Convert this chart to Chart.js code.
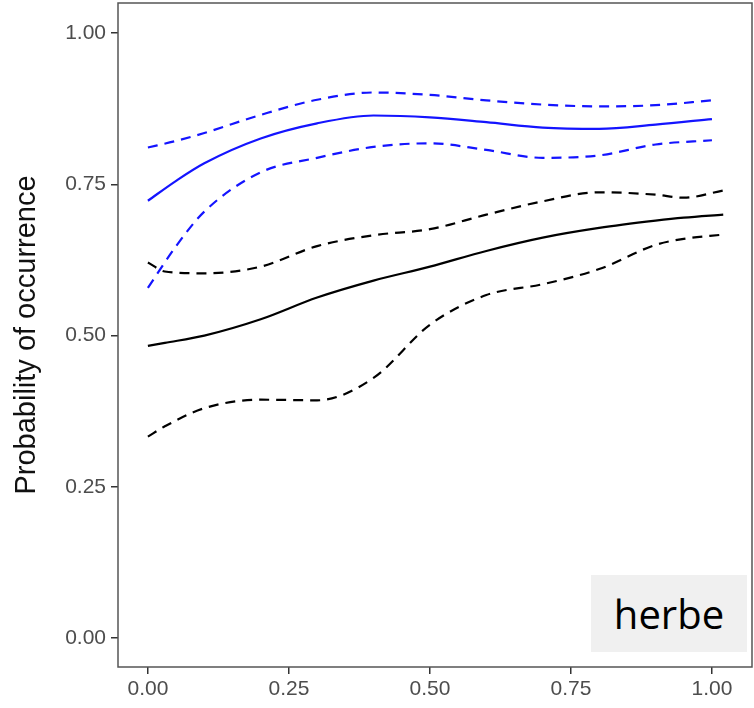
<!DOCTYPE html>
<html>
<head>
<meta charset="utf-8">
<script src="https://cdn.jsdelivr.net/npm/chart.js@4.4.1/dist/chart.umd.min.js"></script>
<style>
  html, body { margin: 0; padding: 0; background: #fff; }
  #wrap { position: relative; width: 754px; height: 708px; }
  #herbe {
    position: absolute; left: 591px; top: 575px; width: 156px; height: 77px;
    background: #f0f0f0; color: #000; font: 40px "Open Sans", "Liberation Sans", sans-serif;
    display: flex; align-items: center; justify-content: center;
  }
</style>
</head>
<body>
<div id="wrap">
  <canvas id="chart" width="754" height="708"></canvas>
  <div id="herbe">herbe</div>
</div>
<script>
// x positions for each curve
const xBlue  = [0, 0.05, 0.1, 0.2, 0.3, 0.4, 0.5, 0.6, 0.7, 0.8, 0.9, 1.0];
const xBlack = [0, 0.03, 0.1, 0.2, 0.3, 0.4, 0.5, 0.6, 0.7, 0.8, 0.9, 0.95, 1.02];

// blue: fit + confidence band
const blueFit   = [0.723, 0.756, 0.785, 0.826, 0.851, 0.864, 0.861, 0.853, 0.844, 0.842, 0.849, 0.858];
const blueUpper = [0.811, 0.822, 0.835, 0.865, 0.890, 0.902, 0.898, 0.889, 0.882, 0.879, 0.881, 0.889];
const blueLower = [0.579, 0.648, 0.705, 0.770, 0.794, 0.812, 0.818, 0.807, 0.794, 0.798, 0.816, 0.823];

// black: fit + confidence band
const blackFit   = [0.483, 0.488, 0.500, 0.527, 0.563, 0.591, 0.614, 0.640, 0.662, 0.678, 0.690, 0.695, 0.700];
const blackUpper = [0.621, 0.606, 0.603, 0.614, 0.648, 0.666, 0.676, 0.700, 0.722, 0.737, 0.733, 0.728, 0.740];
const blackLower = [0.333, 0.350, 0.380, 0.394, 0.393, 0.430, 0.518, 0.567, 0.585, 0.610, 0.650, 0.660, 0.667];

const tickValues = [0, 0.25, 0.5, 0.75, 1.0];

function pts(xs, ys) {
    return xs.map((x, i) => ({ x: x, y: ys[i] }));
}

function line(xs, ys, color, dashed) {
    return {
        data: pts(xs, ys),
        borderColor: color,
        borderWidth: 2.2,
        borderDash: dashed ? [10, 7] : [],
        pointRadius: 0,
        fill: false,
        tension: 0.4,
        cubicInterpolationMode: 'monotone'
    };
}

// full panel border like ggplot
const panelBorder = {
    id: 'panelBorder',
    afterDraw(chart) {
        const a = chart.chartArea;
        const ctx = chart.ctx;
        ctx.save();
        ctx.strokeStyle = '#555';
        ctx.lineWidth = 1.5;
        ctx.strokeRect(a.left, a.top, a.right - a.left, a.bottom - a.top);
        ctx.restore();
    }
};

const tickFont = { family: 'Liberation Sans, Arial, sans-serif', size: 21 };

new Chart(document.getElementById('chart').getContext('2d'), {
    type: 'line',
    data: {
        datasets: [
            line(xBlue, blueUpper, '#1414ff', true),
            line(xBlue, blueFit, '#1414ff', false),
            line(xBlue, blueLower, '#1414ff', true),
            line(xBlack, blackUpper, '#000', true),
            line(xBlack, blackFit, '#000', false),
            line(xBlack, blackLower, '#000', true)
        ]
    },
    options: {
        responsive: false,
        animation: false,
        layout: { padding: { top: 3, right: 2, left: 0, bottom: 0 } },
        plugins: { legend: { display: false }, tooltip: { enabled: false } },
        scales: {
            x: {
                type: 'linear',
                min: -0.053,
                max: 1.071,
                afterBuildTicks: (s) => { s.ticks = tickValues.map(v => ({ value: v })); },
                afterFit: (s) => { s.height = 41; s.paddingLeft = 0; s.paddingRight = 0; },
                border: { display: false },
                grid: { drawOnChartArea: false, drawTicks: true, tickLength: 7, color: '#333', lineWidth: 1.5 },
                ticks: {
                    color: '#4d4d4d', font: tickFont, padding: 3, maxRotation: 0,
                    callback: (v) => Number(v).toFixed(2)
                }
            },
            y: {
                type: 'linear',
                min: -0.048,
                max: 1.05,
                afterBuildTicks: (s) => { s.ticks = tickValues.map(v => ({ value: v })); },
                afterFit: (s) => { s.width = 118; s.paddingTop = 0; s.paddingBottom = 0; },
                border: { display: false },
                grid: { drawOnChartArea: false, drawTicks: true, tickLength: 7, color: '#333', lineWidth: 1.5 },
                ticks: {
                    color: '#4d4d4d', font: tickFont, padding: 5,
                    callback: (v) => Number(v).toFixed(2)
                },
                title: {
                    display: true,
                    text: 'Probability of occurrence',
                    color: '#111',
                    font: { family: 'Liberation Sans, Arial, sans-serif', size: 29 },
                    padding: { top: 10, bottom: 2 }
                }
            }
        }
    },
    plugins: [panelBorder]
});
</script>
</body>
</html>
